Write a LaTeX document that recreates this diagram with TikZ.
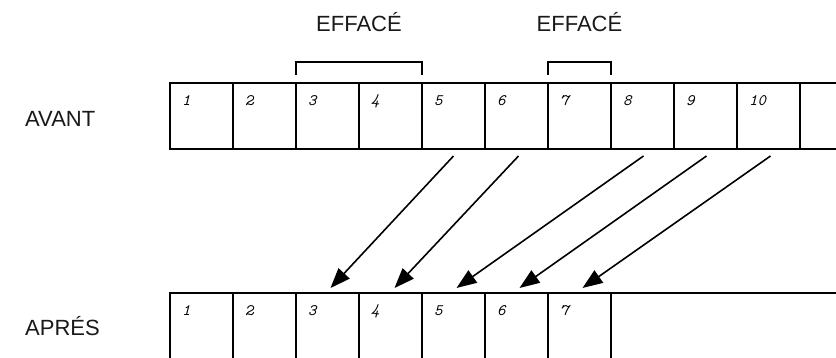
\documentclass[tikz,border=0pt]{standalone}
\usepackage{fontspec}
\setmainfont{Liberation Sans}
\usepackage{tikz}
\usetikzlibrary{arrows.meta,positioning}

\begin{document}
\begin{tikzpicture}[x=1pt,y=1pt,node distance=0pt,>={Triangle[length=20pt,width=15pt]},
 cell/.style={draw,line width=1.3pt,outer sep=0pt,inner sep=0pt,minimum width=63pt,minimum height=66pt},
 num/.style={font=\fontsize{16}{16}\selectfont\ttfamily\itshape,anchor=west,inner sep=0pt},
 lbl/.style={font=\fontsize{22}{26}\selectfont,text=black!90,inner sep=0pt},
 brk/.style={line width=1.3pt},
 move/.style={->,line width=1.6pt}]
\path[use as bounding box,clip] (0,0) rectangle (836,357);
% avant
\node[cell,anchor=north west] (a1) at (170,274) {};
\foreach \i [remember=\i as \j (initially 1)] in {2,...,11}
  \node[cell,right=of a\j] (a\i) {};
\foreach \i in {1,...,10}
  \node[num] (na\i) at ([shift={(12pt,-18pt)}]a\i.north west) {\i};
% apres
\node[cell,anchor=north west] (b1) at (170,64) {};
\foreach \i [remember=\i as \j (initially 1)] in {2,...,7}
  \node[cell,right=of b\j] (b\i) {};
\node[cell,minimum width=300pt,right=of b7] (b8) {};
\foreach \i in {1,...,7}
  \node[num] (nb\i) at ([shift={(12pt,-18pt)}]b\i.north west) {\i};
% labels
\node[lbl,anchor=base west] (avant) at (25,231) {AVANT};
\node[lbl,anchor=base west] (apres) at (25,22) {APRÉS};
\draw[brk] ([yshift=8pt]a3.north west) -- ++(0,13pt) -| ([yshift=8pt]a4.north east);
\draw[brk] ([yshift=8pt]a7.north west) -- ++(0,13pt) -| ([yshift=8pt]a7.north east);
\node[lbl,anchor=base] (eff1) at ([yshift=51pt]a3.north east) {EFFACÉ};
\node[lbl,anchor=base] (eff2) at ([yshift=51pt]a7.north) {EFFACÉ};
% deplacements
\draw[move] ([shift={(0pt,-7pt)}]a5.south) -- ([shift={(3pt,5pt)}]b3.north);
\draw[move] ([shift={(2pt,-7pt)}]a6.south) -- ([shift={(4pt,5pt)}]b4.north);
\draw[move] ([shift={(1pt,-7pt)}]a8.south) -- ([shift={(3pt,5pt)}]b5.north);
\draw[move] ([shift={(1pt,-7pt)}]a9.south) -- ([shift={(3pt,5pt)}]b6.north);
\draw[move] ([shift={(2pt,-7pt)}]a10.south) -- ([shift={(3pt,5pt)}]b7.north);
\end{tikzpicture}
\end{document}
